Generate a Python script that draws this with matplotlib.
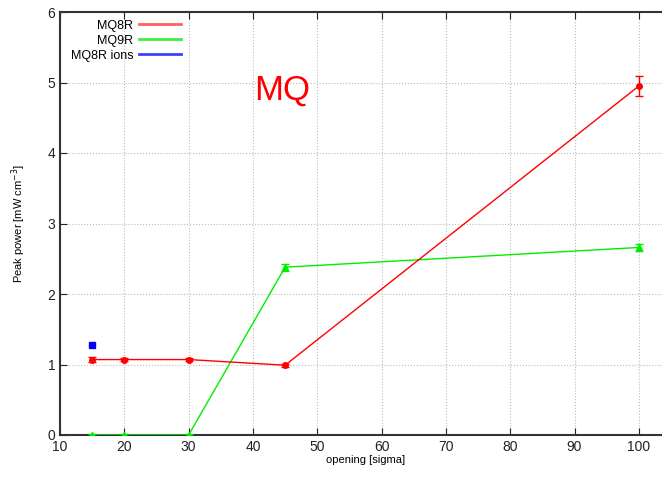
import matplotlib.pyplot as plt

plt.rcParams['font.family'] = ['Liberation Sans', 'DejaVu Sans']

opening = [15, 20, 30, 45, 100]
mq8r = [1.07, 1.07, 1.07, 0.99, 4.95]
mq8r_err = [0.03, 0.02, 0.02, 0.02, 0.14]
mq9r = [0.0, 0.0, 0.0, 2.38, 2.66]
mq9r_err = [0.02, 0.02, 0.02, 0.05, 0.05]
ions_x = [15]
ions_y = [1.28]

xticks = [10, 20, 30, 40, 50, 60, 70, 80, 90, 100]
yticks = [0, 1, 2, 3, 4, 5, 6]

fig = plt.figure(figsize=(6.62, 4.78), dpi=100)
ax = fig.add_axes([60 / 662, 43 / 478, 611 / 662, 423 / 478])

ax.errorbar(opening, mq9r, yerr=mq9r_err, color='#00ee00', lw=1.0, marker='^',
            ms=4, capsize=3, zorder=3)
ax.errorbar(opening, mq8r, yerr=mq8r_err, color='#ff0000', lw=1.0, marker='o',
            ms=4, capsize=3, zorder=4)
ax.plot(ions_x, ions_y, 's', color='#0000ff', ms=4, zorder=5)

# legend proxies (gnuplot style: text first, line after)
h8, = ax.plot([], [], color='#ff6060', lw=2, label='MQ8R')
h9, = ax.plot([], [], color='#40ee40', lw=2, label='MQ9R')
hi, = ax.plot([], [], color='#4040ff', lw=2, label='MQ8R ions')
ax.legend(handles=[h8, h9, hi], loc='upper left', markerfirst=False,
          frameon=False, fontsize=9, handlelength=3.3, labelspacing=0.25,
          handletextpad=0.5, bbox_to_anchor=(0.005, 1.0), borderaxespad=0.2)

ax.text(0.317, 0.815, 'MQ', transform=ax.transAxes, color='red', fontsize=25,
        va='center', ha='left')

ax.set_xlim(10, 105)
ax.set_ylim(0, 6)
ax.set_xticks(xticks)
ax.set_yticks(yticks)
ax.tick_params(direction='in', length=5, labelsize=10, top=True, right=False,
               colors='#222222')
ax.grid(True, color='#bbbbbb', linestyle=':', linewidth=0.8)
for s in ax.spines.values():
    s.set_linewidth(1.5)
    s.set_color('#333333')
ax.spines['right'].set_visible(False)

ax.set_xlabel('opening [sigma]', fontsize=8, labelpad=1)
ax.set_ylabel('Peak power [mW cm$^{-3}$]', fontsize=8, labelpad=14)

fig.savefig('out.png', dpi=100)
